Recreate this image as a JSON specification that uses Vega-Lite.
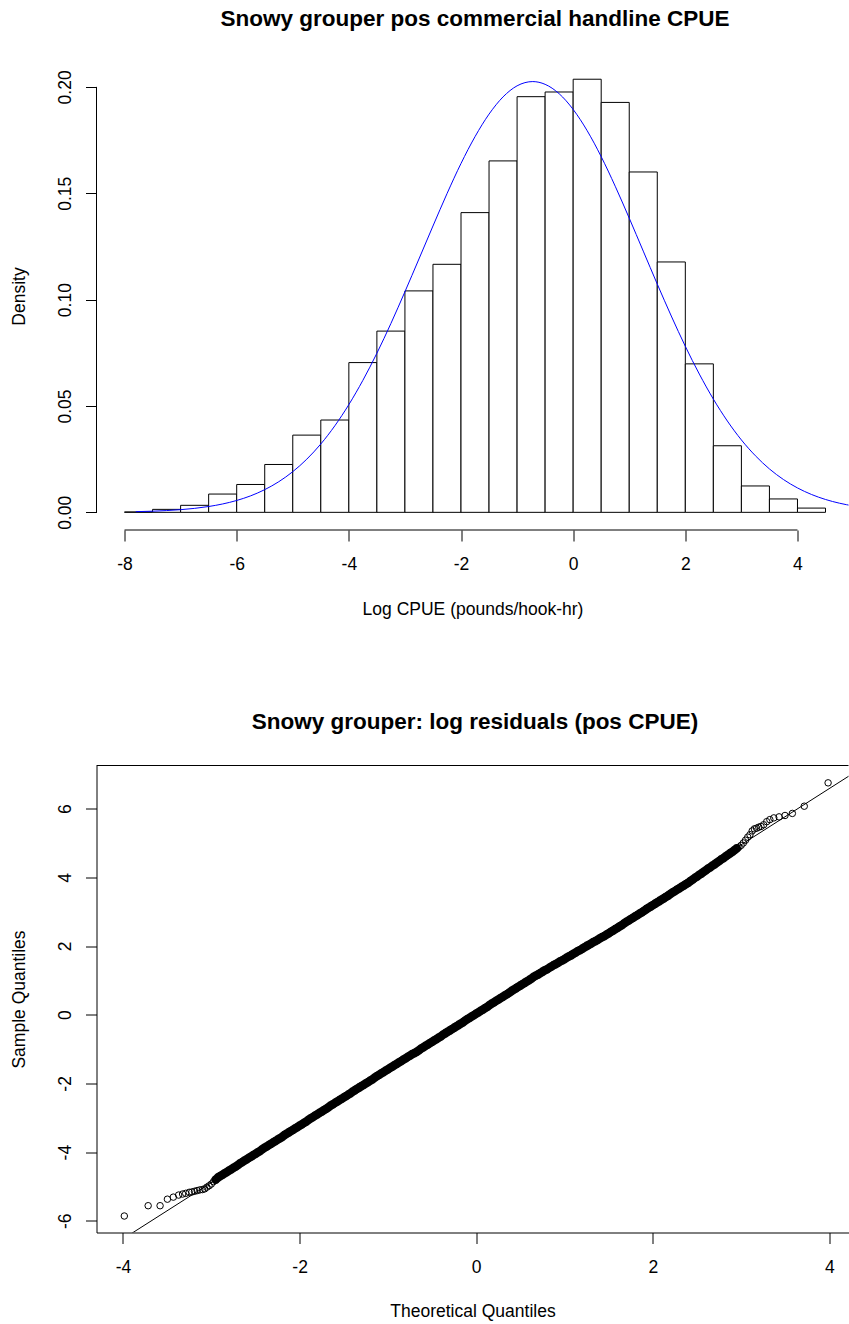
{
"$schema": "https://vega.github.io/schema/vega-lite/v6.json",
"background": "white",
"padding": {"left": 9.5, "top": 8, "right": 0, "bottom": 0},
"spacing": 92.5,
"config": {
 "font": "Liberation Sans",
 "view": {"stroke": null},
 "axis": {"grid": false, "labelFont": "Liberation Sans", "labelFontSize": 17.5, "labelColor": "#000", "titleFont": "Liberation Sans", "titleFontSize": 17.5, "titleFontWeight": "normal", "titleColor": "#000", "tickColor": "#000", "tickSize": 11, "tickWidth": 1, "domainColor": "#000", "domainWidth": 1, "labelFlush": false, "labelOverlap": false},
 "axisX": {"labelAngle": 0, "labelPadding": 14.5, "titlePadding": 27.4},
 "axisY": {"labelAngle": -90, "labelAlign": "center", "labelBaseline": "alphabetic", "labelPadding": 14.6, "titlePadding": 28.5},
 "title": {"font": "Liberation Sans", "fontSize": 22.5, "fontWeight": "bold", "color": "#000", "anchor": "middle", "frame": "group", "baseline": "alphabetic", "offset": 31.5}
},
"datasets": {
 "hist": [
  {"bin_start": -8, "bin_end": -7.5, "density": 0.0002},
  {"bin_start": -7.5, "bin_end": -7, "density": 0.0014},
  {"bin_start": -7, "bin_end": -6.5, "density": 0.0033},
  {"bin_start": -6.5, "bin_end": -6, "density": 0.0086},
  {"bin_start": -6, "bin_end": -5.5, "density": 0.0131},
  {"bin_start": -5.5, "bin_end": -5, "density": 0.0225},
  {"bin_start": -5, "bin_end": -4.5, "density": 0.0363},
  {"bin_start": -4.5, "bin_end": -4, "density": 0.0434},
  {"bin_start": -4, "bin_end": -3.5, "density": 0.0704},
  {"bin_start": -3.5, "bin_end": -3, "density": 0.0852},
  {"bin_start": -3, "bin_end": -2.5, "density": 0.1041},
  {"bin_start": -2.5, "bin_end": -2, "density": 0.1166},
  {"bin_start": -2, "bin_end": -1.5, "density": 0.1409},
  {"bin_start": -1.5, "bin_end": -1, "density": 0.1652},
  {"bin_start": -1, "bin_end": -0.5, "density": 0.1954},
  {"bin_start": -0.5, "bin_end": 0, "density": 0.1976},
  {"bin_start": 0, "bin_end": 0.5, "density": 0.2036},
  {"bin_start": 0.5, "bin_end": 1, "density": 0.1927},
  {"bin_start": 1, "bin_end": 1.5, "density": 0.1600},
  {"bin_start": 1.5, "bin_end": 2, "density": 0.1177},
  {"bin_start": 2, "bin_end": 2.5, "density": 0.0698},
  {"bin_start": 2.5, "bin_end": 3, "density": 0.0313},
  {"bin_start": 3, "bin_end": 3.5, "density": 0.0124},
  {"bin_start": 3.5, "bin_end": 4, "density": 0.0063},
  {"bin_start": 4, "bin_end": 4.5, "density": 0.0020}
 ],
 "curve": [
  {"x": -7.8, "density": 0.00032}, {"x": -7.5, "density": 0.00054}, {"x": -7.25, "density": 0.00083}, {"x": -7, "density": 0.00126},
  {"x": -6.75, "density": 0.00187}, {"x": -6.5, "density": 0.00274}, {"x": -6.25, "density": 0.00394}, {"x": -6, "density": 0.00558},
  {"x": -5.75, "density": 0.00777}, {"x": -5.5, "density": 0.01067}, {"x": -5.25, "density": 0.01439}, {"x": -5, "density": 0.01912},
  {"x": -4.75, "density": 0.02499}, {"x": -4.5, "density": 0.03214}, {"x": -4.25, "density": 0.04068}, {"x": -4, "density": 0.05065},
  {"x": -3.75, "density": 0.06205}, {"x": -3.5, "density": 0.0748}, {"x": -3.25, "density": 0.08878}, {"x": -3, "density": 0.1037},
  {"x": -2.75, "density": 0.1191}, {"x": -2.5, "density": 0.1346}, {"x": -2.25, "density": 0.1498}, {"x": -2, "density": 0.1640},
  {"x": -1.75, "density": 0.1766}, {"x": -1.5, "density": 0.1872}, {"x": -1.25, "density": 0.1953}, {"x": -1, "density": 0.2005},
  {"x": -0.72, "density": 0.2025}, {"x": -0.5, "density": 0.2012}, {"x": -0.25, "density": 0.1968}, {"x": 0, "density": 0.1894},
  {"x": 0.25, "density": 0.1794}, {"x": 0.5, "density": 0.1672}, {"x": 0.75, "density": 0.1533}, {"x": 1, "density": 0.1383},
  {"x": 1.25, "density": 0.1228}, {"x": 1.5, "density": 0.1073}, {"x": 1.75, "density": 0.09228}, {"x": 2, "density": 0.07806},
  {"x": 2.25, "density": 0.065}, {"x": 2.5, "density": 0.05324}, {"x": 2.75, "density": 0.04293}, {"x": 3, "density": 0.03404},
  {"x": 3.25, "density": 0.02659}, {"x": 3.5, "density": 0.02041}, {"x": 3.75, "density": 0.01543}, {"x": 4, "density": 0.01148},
  {"x": 4.25, "density": 0.0084}, {"x": 4.5, "density": 0.00605}, {"x": 4.75, "density": 0.00429}, {"x": 5, "density": 0.00299}
 ],
 "qqline": [{"theo": -4.3, "sample": -7.018}, {"theo": 4.3, "sample": 7.078}],
 "qq": [
  {"theo": -3.985, "sample": -5.86}, {"theo": -3.715, "sample": -5.56}, {"theo": -3.58, "sample": -5.56}, {"theo": -3.497, "sample": -5.37},
  {"theo": -3.43, "sample": -5.31}, {"theo": -3.37, "sample": -5.25}, {"theo": -3.325, "sample": -5.22}, {"theo": -3.29, "sample": -5.2},
  {"theo": -3.25, "sample": -5.17}, {"theo": -3.22, "sample": -5.16}, {"theo": -3.19, "sample": -5.14}, {"theo": -3.16, "sample": -5.12},
  {"theo": -3.13, "sample": -5.1}, {"theo": -3.1, "sample": -5.09}, {"theo": -3.075, "sample": -5.07}, {"theo": -3.05, "sample": -5.02},
  {"theo": -3.025, "sample": -4.98}, {"theo": -3.0, "sample": -4.93}, {"theo": -2.975, "sample": -4.86},
  {"theo": -2.95, "sample": -4.80}, {"theo": -2.925, "sample": -4.74}, {"theo": -2.9, "sample": -4.70}, {"theo": -2.875, "sample": -4.66},
  {"theo": -2.85, "sample": -4.62}, {"theo": -2.825, "sample": -4.58}, {"theo": -2.8, "sample": -4.54}, {"theo": -2.775, "sample": -4.50},
  {"theo": -2.75, "sample": -4.46}, {"theo": -2.725, "sample": -4.42}, {"theo": -2.7, "sample": -4.38}, {"theo": -2.675, "sample": -4.33},
  {"theo": -2.65, "sample": -4.29}, {"theo": -2.625, "sample": -4.25}, {"theo": -2.6, "sample": -4.21}, {"theo": -2.575, "sample": -4.17},
  {"theo": -2.55, "sample": -4.13}, {"theo": -2.525, "sample": -4.09}, {"theo": -2.5, "sample": -4.05}, {"theo": -2.475, "sample": -4.01},
  {"theo": -2.45, "sample": -3.97}, {"theo": -2.425, "sample": -3.92}, {"theo": -2.4, "sample": -3.88}, {"theo": -2.375, "sample": -3.84},
  {"theo": -2.35, "sample": -3.80}, {"theo": -2.325, "sample": -3.76}, {"theo": -2.3, "sample": -3.72}, {"theo": -2.275, "sample": -3.68},
  {"theo": -2.25, "sample": -3.64}, {"theo": -2.225, "sample": -3.60}, {"theo": -2.2, "sample": -3.56}, {"theo": -2.175, "sample": -3.51},
  {"theo": -2.15, "sample": -3.47}, {"theo": -2.125, "sample": -3.43}, {"theo": -2.1, "sample": -3.39}, {"theo": -2.075, "sample": -3.35},
  {"theo": -2.05, "sample": -3.31}, {"theo": -2.025, "sample": -3.27}, {"theo": -2.0, "sample": -3.23}, {"theo": -1.975, "sample": -3.19},
  {"theo": -1.95, "sample": -3.15}, {"theo": -1.925, "sample": -3.11}, {"theo": -1.9, "sample": -3.06}, {"theo": -1.875, "sample": -3.02},
  {"theo": -1.85, "sample": -2.98}, {"theo": -1.825, "sample": -2.94}, {"theo": -1.8, "sample": -2.90}, {"theo": -1.775, "sample": -2.86},
  {"theo": -1.75, "sample": -2.82}, {"theo": -1.725, "sample": -2.78}, {"theo": -1.7, "sample": -2.74}, {"theo": -1.675, "sample": -2.70},
  {"theo": -1.65, "sample": -2.65}, {"theo": -1.625, "sample": -2.61}, {"theo": -1.6, "sample": -2.57}, {"theo": -1.575, "sample": -2.53},
  {"theo": -1.55, "sample": -2.49}, {"theo": -1.525, "sample": -2.45}, {"theo": -1.5, "sample": -2.41}, {"theo": -1.475, "sample": -2.37},
  {"theo": -1.45, "sample": -2.33}, {"theo": -1.425, "sample": -2.29}, {"theo": -1.4, "sample": -2.24}, {"theo": -1.375, "sample": -2.20},
  {"theo": -1.35, "sample": -2.16}, {"theo": -1.325, "sample": -2.12}, {"theo": -1.3, "sample": -2.08}, {"theo": -1.275, "sample": -2.04},
  {"theo": -1.25, "sample": -2.00}, {"theo": -1.225, "sample": -1.96}, {"theo": -1.2, "sample": -1.92}, {"theo": -1.175, "sample": -1.88},
  {"theo": -1.15, "sample": -1.83}, {"theo": -1.125, "sample": -1.79}, {"theo": -1.1, "sample": -1.75}, {"theo": -1.075, "sample": -1.71},
  {"theo": -1.05, "sample": -1.67}, {"theo": -1.025, "sample": -1.63}, {"theo": -1.0, "sample": -1.59}, {"theo": -0.975, "sample": -1.55},
  {"theo": -0.95, "sample": -1.51}, {"theo": -0.925, "sample": -1.47}, {"theo": -0.9, "sample": -1.43}, {"theo": -0.875, "sample": -1.39},
  {"theo": -0.85, "sample": -1.35}, {"theo": -0.825, "sample": -1.31}, {"theo": -0.8, "sample": -1.27}, {"theo": -0.775, "sample": -1.23},
  {"theo": -0.75, "sample": -1.19}, {"theo": -0.725, "sample": -1.15}, {"theo": -0.7, "sample": -1.12}, {"theo": -0.675, "sample": -1.08},
  {"theo": -0.65, "sample": -1.04}, {"theo": -0.625, "sample": -0.99}, {"theo": -0.6, "sample": -0.95}, {"theo": -0.575, "sample": -0.91},
  {"theo": -0.55, "sample": -0.87}, {"theo": -0.525, "sample": -0.83}, {"theo": -0.5, "sample": -0.79}, {"theo": -0.475, "sample": -0.75},
  {"theo": -0.45, "sample": -0.71}, {"theo": -0.425, "sample": -0.67}, {"theo": -0.4, "sample": -0.63}, {"theo": -0.375, "sample": -0.58},
  {"theo": -0.35, "sample": -0.54}, {"theo": -0.325, "sample": -0.50}, {"theo": -0.3, "sample": -0.46}, {"theo": -0.275, "sample": -0.42},
  {"theo": -0.25, "sample": -0.38}, {"theo": -0.225, "sample": -0.34}, {"theo": -0.2, "sample": -0.30}, {"theo": -0.175, "sample": -0.26},
  {"theo": -0.15, "sample": -0.22}, {"theo": -0.125, "sample": -0.17}, {"theo": -0.1, "sample": -0.13}, {"theo": -0.075, "sample": -0.09},
  {"theo": -0.05, "sample": -0.05}, {"theo": -0.025, "sample": -0.01}, {"theo": 0, "sample": 0.03}, {"theo": 0.025, "sample": 0.07},
  {"theo": 0.05, "sample": 0.11}, {"theo": 0.075, "sample": 0.15}, {"theo": 0.1, "sample": 0.19}, {"theo": 0.125, "sample": 0.23},
  {"theo": 0.15, "sample": 0.28}, {"theo": 0.175, "sample": 0.32}, {"theo": 0.2, "sample": 0.36}, {"theo": 0.225, "sample": 0.40},
  {"theo": 0.25, "sample": 0.44}, {"theo": 0.275, "sample": 0.48}, {"theo": 0.3, "sample": 0.52}, {"theo": 0.325, "sample": 0.56},
  {"theo": 0.35, "sample": 0.60}, {"theo": 0.375, "sample": 0.64}, {"theo": 0.4, "sample": 0.69}, {"theo": 0.425, "sample": 0.73},
  {"theo": 0.45, "sample": 0.77}, {"theo": 0.475, "sample": 0.81}, {"theo": 0.5, "sample": 0.85}, {"theo": 0.525, "sample": 0.89},
  {"theo": 0.55, "sample": 0.93}, {"theo": 0.575, "sample": 0.97}, {"theo": 0.6, "sample": 1.01}, {"theo": 0.625, "sample": 1.05},
  {"theo": 0.65, "sample": 1.10}, {"theo": 0.675, "sample": 1.14}, {"theo": 0.7, "sample": 1.17}, {"theo": 0.725, "sample": 1.21},
  {"theo": 0.75, "sample": 1.25}, {"theo": 0.775, "sample": 1.29}, {"theo": 0.8, "sample": 1.32}, {"theo": 0.825, "sample": 1.36},
  {"theo": 0.85, "sample": 1.40}, {"theo": 0.875, "sample": 1.44}, {"theo": 0.9, "sample": 1.47}, {"theo": 0.925, "sample": 1.51},
  {"theo": 0.95, "sample": 1.55}, {"theo": 0.975, "sample": 1.58}, {"theo": 1.0, "sample": 1.62}, {"theo": 1.025, "sample": 1.66},
  {"theo": 1.05, "sample": 1.70}, {"theo": 1.075, "sample": 1.73}, {"theo": 1.1, "sample": 1.77}, {"theo": 1.125, "sample": 1.81},
  {"theo": 1.15, "sample": 1.85}, {"theo": 1.175, "sample": 1.88}, {"theo": 1.2, "sample": 1.92}, {"theo": 1.225, "sample": 1.96},
  {"theo": 1.25, "sample": 2.00}, {"theo": 1.275, "sample": 2.03}, {"theo": 1.3, "sample": 2.07}, {"theo": 1.325, "sample": 2.11},
  {"theo": 1.35, "sample": 2.14}, {"theo": 1.375, "sample": 2.18}, {"theo": 1.4, "sample": 2.22}, {"theo": 1.425, "sample": 2.26},
  {"theo": 1.45, "sample": 2.29}, {"theo": 1.475, "sample": 2.33}, {"theo": 1.5, "sample": 2.37}, {"theo": 1.525, "sample": 2.41},
  {"theo": 1.55, "sample": 2.45}, {"theo": 1.575, "sample": 2.49}, {"theo": 1.6, "sample": 2.53}, {"theo": 1.625, "sample": 2.57},
  {"theo": 1.65, "sample": 2.61}, {"theo": 1.675, "sample": 2.66}, {"theo": 1.7, "sample": 2.70}, {"theo": 1.725, "sample": 2.74},
  {"theo": 1.75, "sample": 2.78}, {"theo": 1.775, "sample": 2.82}, {"theo": 1.8, "sample": 2.86}, {"theo": 1.825, "sample": 2.90},
  {"theo": 1.85, "sample": 2.94}, {"theo": 1.875, "sample": 2.98}, {"theo": 1.9, "sample": 3.02}, {"theo": 1.925, "sample": 3.07},
  {"theo": 1.95, "sample": 3.11}, {"theo": 1.975, "sample": 3.15}, {"theo": 2.0, "sample": 3.19}, {"theo": 2.025, "sample": 3.23},
  {"theo": 2.05, "sample": 3.27}, {"theo": 2.075, "sample": 3.31}, {"theo": 2.1, "sample": 3.35}, {"theo": 2.125, "sample": 3.39},
  {"theo": 2.15, "sample": 3.43}, {"theo": 2.175, "sample": 3.47}, {"theo": 2.2, "sample": 3.52}, {"theo": 2.225, "sample": 3.56},
  {"theo": 2.25, "sample": 3.60}, {"theo": 2.275, "sample": 3.64}, {"theo": 2.3, "sample": 3.68}, {"theo": 2.325, "sample": 3.72},
  {"theo": 2.35, "sample": 3.76}, {"theo": 2.375, "sample": 3.80}, {"theo": 2.4, "sample": 3.84}, {"theo": 2.425, "sample": 3.89},
  {"theo": 2.45, "sample": 3.93}, {"theo": 2.475, "sample": 3.98}, {"theo": 2.5, "sample": 4.02}, {"theo": 2.525, "sample": 4.07},
  {"theo": 2.55, "sample": 4.11}, {"theo": 2.575, "sample": 4.16}, {"theo": 2.6, "sample": 4.20}, {"theo": 2.625, "sample": 4.25},
  {"theo": 2.65, "sample": 4.29}, {"theo": 2.675, "sample": 4.34}, {"theo": 2.7, "sample": 4.38}, {"theo": 2.725, "sample": 4.43},
  {"theo": 2.75, "sample": 4.47}, {"theo": 2.775, "sample": 4.52}, {"theo": 2.8, "sample": 4.56}, {"theo": 2.825, "sample": 4.61},
  {"theo": 2.85, "sample": 4.65}, {"theo": 2.875, "sample": 4.70}, {"theo": 2.9, "sample": 4.74}, {"theo": 2.925, "sample": 4.79},
  {"theo": 2.95, "sample": 4.84},
  {"theo": 2.975, "sample": 4.88}, {"theo": 3.0, "sample": 4.93}, {"theo": 3.025, "sample": 5.0}, {"theo": 3.05, "sample": 5.08},
  {"theo": 3.075, "sample": 5.17}, {"theo": 3.1, "sample": 5.24}, {"theo": 3.125, "sample": 5.35}, {"theo": 3.15, "sample": 5.41},
  {"theo": 3.175, "sample": 5.43}, {"theo": 3.2, "sample": 5.46}, {"theo": 3.225, "sample": 5.48}, {"theo": 3.255, "sample": 5.53},
  {"theo": 3.29, "sample": 5.62}, {"theo": 3.325, "sample": 5.68}, {"theo": 3.37, "sample": 5.73}, {"theo": 3.43, "sample": 5.76},
  {"theo": 3.497, "sample": 5.8}, {"theo": 3.58, "sample": 5.86}, {"theo": 3.715, "sample": 6.07}, {"theo": 3.985, "sample": 6.75}
 ]
},
"vconcat": [
 {
  "title": {"text": "Snowy grouper pos commercial handline CPUE", "dx": 2.5},
  "width": 752, "height": 468,
  "layer": [
   {"data": {"name": "hist"},
    "mark": {"type": "rect", "fill": "white", "stroke": "#000", "strokeWidth": 1},
    "encoding": {
     "x": {"field": "bin_start", "type": "quantitative", "scale": {"domain": [-8.5, 4.91], "nice": false, "zero": false},
           "axis": {"title": "Log CPUE (pounds/hook-hr)", "values": [-8, -6, -4, -2, 0, 2, 4], "domain": false, "labelExpr": "'' + datum.value"}},
     "x2": {"field": "bin_end"},
     "y": {"field": "density", "type": "quantitative", "scale": {"domain": [-0.0083, 0.2117], "nice": false, "zero": false},
           "axis": {"title": "Density", "values": [0, 0.05, 0.1, 0.15, 0.2], "format": ".2f", "domain": false}},
     "y2": {"datum": 0}
    }},
   {"data": {"name": "curve"},
    "mark": {"type": "line", "stroke": "#0000ff", "strokeWidth": 1, "interpolate": "monotone", "clip": true},
    "encoding": {"x": {"field": "x", "type": "quantitative"}, "y": {"field": "density", "type": "quantitative"}}},
   {"data": {"values": [{}]},
    "mark": {"type": "rule", "stroke": "#000", "strokeWidth": 1},
    "encoding": {"x": {"datum": -8}, "x2": {"datum": 4}, "y": {"datum": -0.0083}}},
   {"data": {"values": [{}]},
    "mark": {"type": "rule", "stroke": "#000", "strokeWidth": 1},
    "encoding": {"x": {"datum": -8.5}, "y": {"datum": 0}, "y2": {"datum": 0.2}}}
  ]
 },
 {
  "title": {"text": "Snowy grouper: log residuals (pos CPUE)", "dx": 2.5},
  "width": 752, "height": 467,
  "layer": [
   {"data": {"name": "qqline"},
    "mark": {"type": "line", "stroke": "#000", "strokeWidth": 1, "clip": true},
    "encoding": {
     "x": {"field": "theo", "type": "quantitative", "scale": {"domain": [-4.3, 4.216], "nice": false, "zero": false},
           "axis": {"title": "Theoretical Quantiles", "values": [-4, -2, 0, 2, 4], "labelExpr": "'' + datum.value"}},
     "y": {"field": "sample", "type": "quantitative", "scale": {"domain": [-6.34, 7.255], "nice": false, "zero": false},
           "axis": {"title": "Sample Quantiles", "values": [-6, -4, -2, 0, 2, 4, 6], "labelExpr": "'' + datum.value"}}
    }},
   {"data": {"name": "qq"},
    "transform": [{"filter": "datum.theo >= -2.95 && datum.theo <= 2.95"}],
    "mark": {"type": "point", "shape": "circle", "filled": false, "color": "#000", "strokeWidth": 3, "size": 34, "opacity": 1},
    "encoding": {"x": {"field": "theo", "type": "quantitative"}, "y": {"field": "sample", "type": "quantitative"}}},
   {"data": {"name": "qq"},
    "transform": [{"filter": "datum.theo < -2.95 || datum.theo > 2.95"}],
    "mark": {"type": "point", "shape": "circle", "filled": false, "color": "#000", "strokeWidth": 1, "size": 42, "opacity": 1},
    "encoding": {"x": {"field": "theo", "type": "quantitative"}, "y": {"field": "sample", "type": "quantitative"}}},
   {"data": {"values": [{}]},
    "mark": {"type": "rule", "stroke": "#000", "strokeWidth": 1},
    "encoding": {"x": {"datum": -4.3}, "x2": {"datum": 4.216}, "y": {"datum": 7.255}}}
  ]
 }
]
}
